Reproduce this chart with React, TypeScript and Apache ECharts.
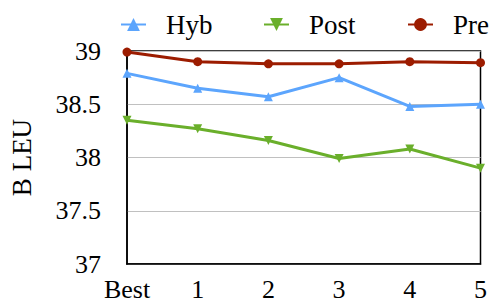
import React, { useEffect, useRef } from "react";
import * as echarts from "echarts";

const categories = ["Best", "1", "2", "3", "4", "5"];
const hyb = [38.79, 38.65, 38.57, 38.75, 38.48, 38.5];
const post = [38.35, 38.27, 38.16, 37.99, 38.08, 37.9];
const pre = [38.99, 38.9, 38.88, 38.88, 38.9, 38.89];
const legendNames = ["Hyb", "Post", "Pre"];

const FONT = "'Liberation Serif', 'Times New Roman', serif";

export default function App() {
  const ref = useRef<HTMLDivElement>(null);
  useEffect(() => {
    if (!ref.current) return;
    const chart = echarts.init(ref.current, null, { renderer: "svg" });
    const mk = (name: string, data: number[], color: string, symbol: string) => ({
      name,
      type: "line",
      data,
      symbol,
      symbolSize: 9,
      showSymbol: true,
      itemStyle: { color },
      lineStyle: { color, width: 3 },
    });
    const legendLefts = [120, 263, 407];
    chart.setOption({
      animation: false,
      backgroundColor: "#fff",
      textStyle: { fontFamily: FONT },
      legend: legendNames.map((n, i) => ({
        top: 11,
        left: legendLefts[i],
        padding: 0,
        itemWidth: 25,
        itemHeight: 16,
        textStyle: { fontFamily: FONT, fontSize: 27, color: "#000", padding: [0, 0, 0, 15] },
        data: [n],
      })),
      grid: {
        left: 125,
        right: 7,
        top: 51,
        bottom: 36,
        show: true,
        borderColor: "#000",
        borderWidth: 1.5,
        backgroundColor: "transparent",
      },
      xAxis: {
        type: "category",
        data: categories,
        boundaryGap: false,
        axisLine: { show: true, lineStyle: { color: "#000", width: 1.5 } },
        axisTick: { show: false },
        axisLabel: { color: "#000", fontSize: 26, fontFamily: FONT, margin: 12 },
        splitLine: { show: false },
      },
      yAxis: {
        type: "value",
        min: 37,
        max: 39,
        interval: 0.5,
        name: "B LEU",
        nameLocation: "middle",
        nameGap: 92,
        nameTextStyle: { color: "#000", fontSize: 27, fontFamily: FONT },
        axisLine: { show: true, lineStyle: { color: "#000", width: 1.5 } },
        axisTick: { show: false },
        axisLabel: { color: "#000", fontSize: 26, fontFamily: FONT, margin: 26 },
        splitLine: { show: true, lineStyle: { color: "#c0c0c0", width: 1 } },
      },
      series: [
        mk("Hyb", hyb, "#5ca5fd", "triangle"),
        mk("Post", post, "#6aaf2b", "path://M0,0 L10,0 L5,10 Z"),
        mk("Pre", pre, "#9c1c00", "circle"),
      ],
    });
    return () => chart.dispose();
  }, []);
  return <div ref={ref} style={{ width: 490, height: 302, position: "absolute", left: 0, top: 0 }} />;
}
